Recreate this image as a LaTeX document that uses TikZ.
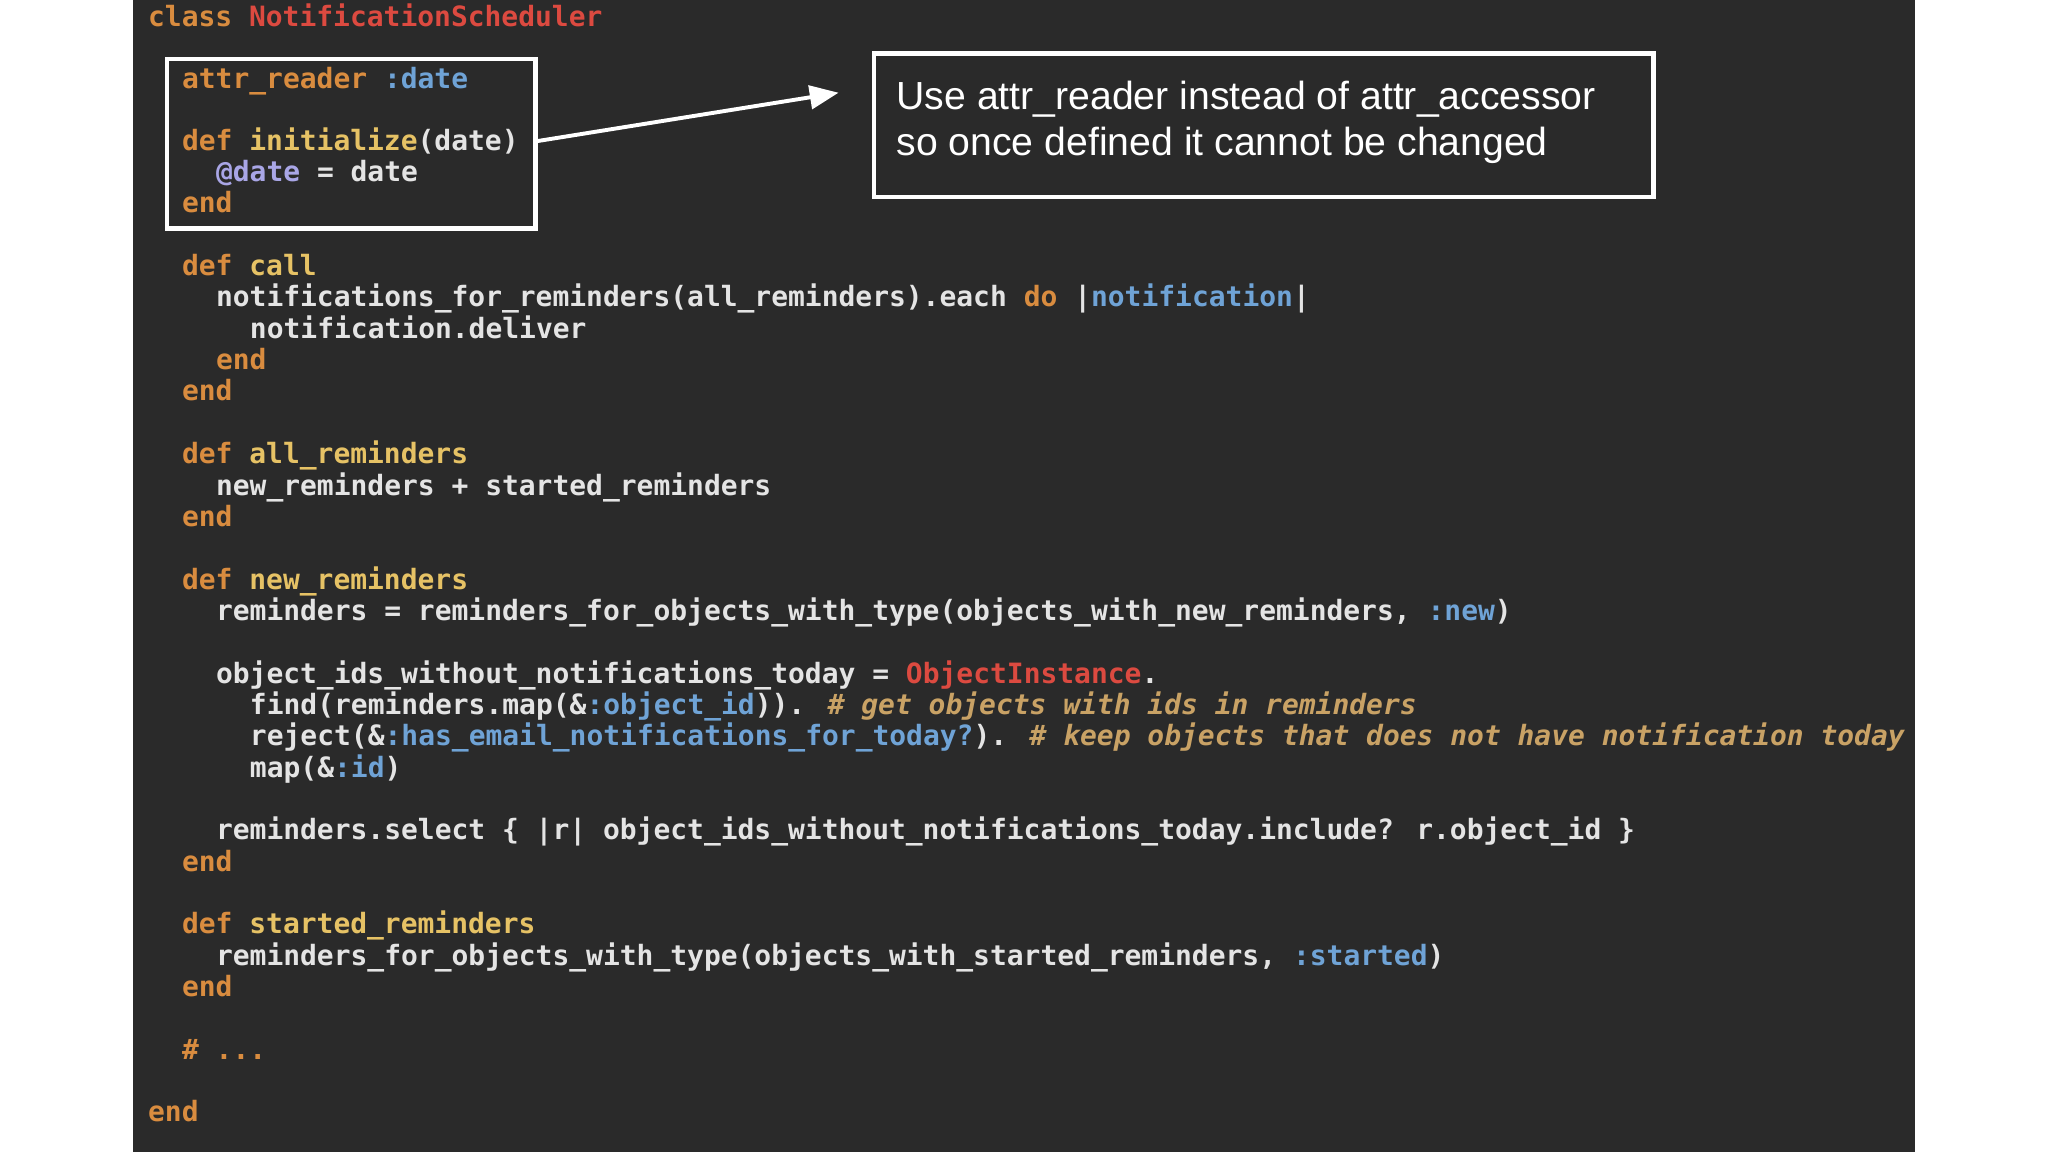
\documentclass[tikz,border=0pt]{standalone}
\usepackage{fontspec}
\setmainfont{Liberation Sans}
\newfontfamily\codefont{DejaVu Sans Mono}
\usetikzlibrary{arrows.meta}
\definecolor{panel}{HTML}{2A2A2A}
\definecolor{kw}{HTML}{D98C3F}
\definecolor{fn}{HTML}{E6C265}
\definecolor{cls}{HTML}{DC4A40}
\definecolor{sym}{HTML}{6FA3D6}
\definecolor{cmt}{HTML}{C9A265}
\definecolor{iv}{HTML}{A9A6E6}
\definecolor{txt}{HTML}{E4E4E4}
\newcommand{\Kw}[1]{\textcolor{kw}{#1}}
\newcommand{\Fn}[1]{\textcolor{fn}{#1}}
\newcommand{\Cl}[1]{\textcolor{cls}{#1}}
\newcommand{\Sy}[1]{\textcolor{sym}{#1}}
\newcommand{\Cm}[1]{\textcolor{cmt}{\itshape #1}}
\newcommand{\Iv}[1]{\textcolor{iv}{#1}}
\begin{document}
\begin{tikzpicture}[x=0.5pt,y=-0.5pt,
  code/.style={anchor=base west, inner sep=0pt, text=txt, font=\codefont\bfseries\fontsize{10.7}{12}\selectfont},
  hibox/.style={draw=white, line width=1.6pt, inner sep=0pt},
  note/.style={anchor=base west, inner sep=0pt, text=white, font=\fontsize{15}{18}\selectfont}]
\useasboundingbox (0,0) rectangle (1568,882);
\fill[white] (0,0) rectangle (1568,882);
\fill[panel] (102,0) rectangle (1466,882);
% code
\node[code] (l0) at (113,20) {\Kw{class} \Cl{NotificationScheduler}};
\node[code] (l1) at (139,68) {\Kw{attr\_reader} \Sy{:date}};
\node[code] (l2) at (139,115) {\Kw{def} \Fn{initialize}(date)};
\node[code] (l3) at (165,139) {\Iv{@date} = date};
\node[code] (l4) at (139,163) {\Kw{end}};
\node[code] (l5) at (139,211) {\Kw{def} \Fn{call}};
\node[code] (l6) at (165,235) {notifications\_for\_reminders(all\_reminders).each \Kw{do} |\Sy{notification}|};
\node[code] (l7) at (191,259) {notification.deliver};
\node[code] (l8) at (165,283) {\Kw{end}};
\node[code] (l9) at (139,307) {\Kw{end}};
\node[code] (l10) at (139,355) {\Kw{def} \Fn{all\_reminders}};
\node[code] (l11) at (165,379) {new\_reminders + started\_reminders};
\node[code] (l12) at (139,403) {\Kw{end}};
\node[code] (l13) at (139,451) {\Kw{def} \Fn{new\_reminders}};
\node[code] (l14) at (165,475) {reminders = reminders\_for\_objects\_with\_type(objects\_with\_new\_reminders, \Sy{:new})};
\node[code] (l15) at (165,523) {object\_ids\_without\_notifications\_today = \Cl{ObjectInstance}.};
\node[code] (l16) at (191,547) {find(reminders.map(\&\Sy{:object\_id})). \Cm{\# get objects with ids in reminders}};
\node[code] (l17) at (191,571) {reject(\&\Sy{:has\_email\_notifications\_for\_today?}). \Cm{\# keep objects that does not have notification today}};
\node[code] (l18) at (191,595) {map(\&\Sy{:id})};
\node[code] (l19) at (165,643) {reminders.select \{ |r| object\_ids\_without\_notifications\_today.include? r.object\_id \}};
\node[code] (l20) at (139,667) {\Kw{end}};
\node[code] (l21) at (139,715) {\Kw{def} \Fn{started\_reminders}};
\node[code] (l22) at (165,739) {reminders\_for\_objects\_with\_type(objects\_with\_started\_reminders, \Sy{:started})};
\node[code] (l23) at (139,763) {\Kw{end}};
\node[code] (l24) at (139,811) {\Kw{\# ...}};
\node[code] (l25) at (113,859) {\Kw{end}};
% boxes
\node[hibox, minimum width=141pt, minimum height=65pt] (box1) at (269,110) {};
\node[hibox, fill=panel, minimum width=298.5pt, minimum height=55pt] (box2) at (967.5,96) {};
\node[note] (n1) at (686,84) {Use attr\_reader instead of attr\_accessor};
\node[note] (n2) at (686,119) {so once defined it cannot be changed};
\coordinate (tip) at (642,71);
\draw[white, line width=1.5pt, -{Triangle[length=11pt,width=9pt]}] (box1.east) ++(0,-2) -- (tip);
\end{tikzpicture}
\end{document}
